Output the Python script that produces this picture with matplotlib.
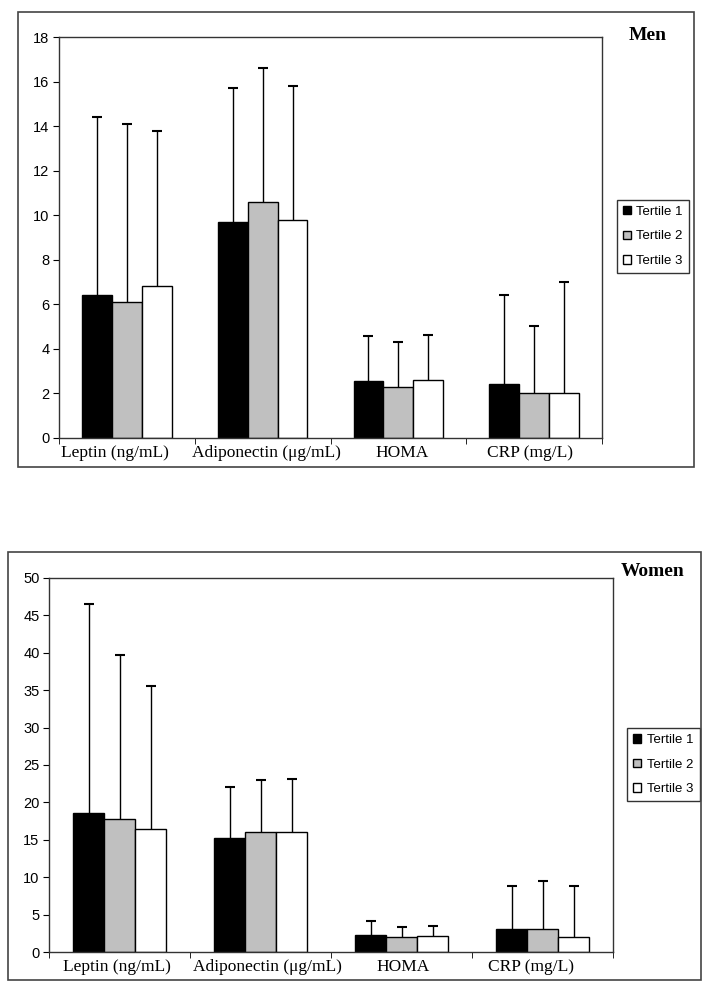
import matplotlib
matplotlib.use("Agg")
import matplotlib.pyplot as plt
from matplotlib.patches import Rectangle
from matplotlib.transforms import ScaledTranslation
import numpy as np

# categories and tertile labels
categories = ["Leptin (ng/mL)", "Adiponectin (\u03bcg/mL)", "HOMA", "CRP (mg/L)"]
tertiles = ["Tertile 1", "Tertile 2", "Tertile 3"]

# men: means and SD (upper error bars)
men_t1 = [6.4, 9.7, 2.55, 2.4]
men_t2 = [6.1, 10.6, 2.3, 2.0]
men_t3 = [6.8, 9.8, 2.6, 2.0]
men_sd_t1 = [8.0, 6.0, 2.0, 4.0]
men_sd_t2 = [8.0, 6.0, 2.0, 3.0]
men_sd_t3 = [7.0, 6.0, 2.0, 5.0]

# women: means and SD
women_t1 = [18.6, 15.2, 2.3, 3.1]
women_t2 = [17.8, 16.0, 2.1, 3.1]
women_t3 = [16.4, 16.0, 2.2, 2.1]
women_sd_t1 = [27.9, 6.9, 1.9, 5.7]
women_sd_t2 = [21.9, 7.0, 1.3, 6.4]
women_sd_t3 = [19.1, 7.1, 1.35, 6.7]

colors = ["black", "#c0c0c0", "white"]
serif = ["Liberation Serif", "DejaVu Serif"]
sans = ["Liberation Sans", "DejaVu Sans"]

fig = plt.figure(figsize=(7.13, 9.90), dpi=100)


def panel(rect, box, means, sds, ymax, ystep, title, title_xy, leg_xy, label_dx):
    fig.add_artist(Rectangle(box[:2], box[2], box[3], transform=fig.transFigure,
                             fill=False, edgecolor="#444444", lw=1.2))
    ax = fig.add_axes(rect)
    x = np.arange(len(categories))
    w = 0.22
    for i in range(3):
        xs = x + (i - 1) * w
        ax.bar(xs, means[i], w, color=colors[i], edgecolor="black", lw=1,
               label=tertiles[i], zorder=2)
        eb = ax.errorbar(xs, means[i], yerr=[np.zeros(len(x)), sds[i]], fmt="none",
                         ecolor="black", elinewidth=1, capsize=3.5, capthick=1.5, zorder=3)
        # only upper caps
        eb[1][0].set_visible(False)
    ax.set_xlim(-0.5, len(categories) - 0.5)
    ax.set_ylim(0, ymax)
    ax.set_yticks(np.arange(0, ymax + 0.1, ystep))
    ax.set_xticks(x)
    ax.set_xticklabels(categories, family=serif, fontsize=12.5)
    ax.set_xticks(np.arange(-0.5, len(categories)), minor=True)
    ax.tick_params(axis="x", which="major", length=0, pad=5)
    ax.tick_params(axis="x", which="minor", length=4, direction="out")
    ax.tick_params(axis="y", length=4, direction="out", labelsize=10.5, pad=3)
    for lab in ax.get_yticklabels():
        lab.set_family(sans)
    # small nudges so labels sit where the original put them
    for lab, dx in zip(ax.get_xticklabels(), label_dx):
        lab.set_transform(lab.get_transform() + ScaledTranslation(dx / 100, 0, fig.dpi_scale_trans))
    for s in ax.spines.values():
        s.set_color("#333333")
        s.set_linewidth(1)
    fig.text(title_xy[0], title_xy[1], title, family=serif, fontweight="bold",
             fontsize=14, ha="center", va="center")
    leg = ax.legend(loc="upper left", bbox_to_anchor=leg_xy, bbox_transform=fig.transFigure,
                    borderaxespad=0, frameon=True, fancybox=False, edgecolor="black",
                    prop={"family": sans, "size": 9.5}, handlelength=0.6,
                    handleheight=0.6, handletextpad=0.45, labelspacing=0.95,
                    borderpad=0.45)
    leg.get_frame().set_linewidth(1)
    return ax


panel([0.0832, 0.5579, 0.7607, 0.4044], (0.0248, 0.5283, 0.9485, 0.4596),
      [men_t1, men_t2, men_t3], [men_sd_t1, men_sd_t2, men_sd_t3],
      18, 2, "Men", (648 / 713, 1 - 36 / 990), (616.7 / 713, 1 - 200 / 990),
      [-12, 3.5, 4, -3.7])

panel([0.0691, 0.0381, 0.7911, 0.3784], (0.0116, 0.0101, 0.972, 0.432),
      [women_t1, women_t2, women_t3], [women_sd_t1, women_sd_t2, women_sd_t3],
      50, 5, "Women", (653 / 713, 1 - 572 / 990), (627.3 / 713, 1 - 728.3 / 990),
      [-3, 7, 1.7, -12])

fig.savefig("out.png", dpi=100)
